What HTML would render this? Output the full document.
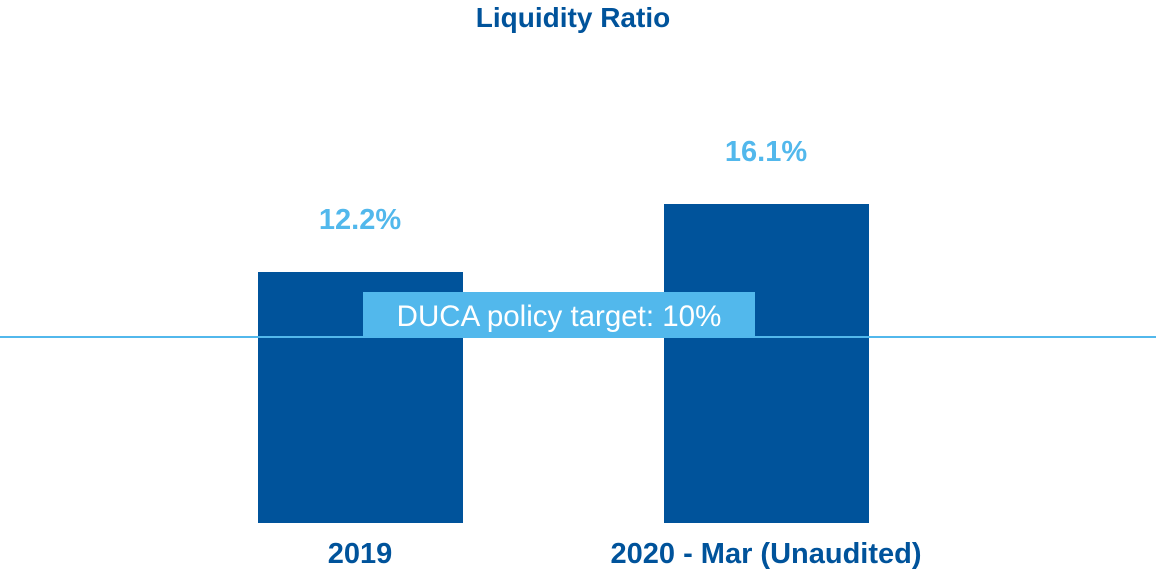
<!DOCTYPE html>
<html><head><meta charset="utf-8"><style>
html,body{margin:0;padding:0;background:#fff;}
body{width:1156px;height:568px;position:relative;overflow:hidden;font-family:"Liberation Sans",sans-serif;}
.a{position:absolute;}
.bar{background:#00539b;}
.t{color:#00539b;font-weight:bold;text-align:center;white-space:nowrap;}
.v{color:#52b8ec;font-weight:bold;font-size:29px;text-align:center;width:200px;}
</style></head><body>
<div class="a t" style="left:373px;width:400px;top:2px;font-size:28px;">Liquidity Ratio</div>
<div class="a bar" style="left:258px;top:272px;width:205px;height:251px;"></div>
<div class="a bar" style="left:664px;top:204px;width:205px;height:319px;"></div>
<div class="a" style="left:0;top:336px;width:1156px;height:2px;background:#52b8ec;"></div>
<div class="a" style="left:363px;top:292px;width:392px;height:45px;background:#52b8ec;color:#fff;font-size:29.5px;line-height:50px;text-align:center;white-space:nowrap;">DUCA policy target: 10%</div>
<div class="a v" style="left:260px;top:204px;">12.2%</div>
<div class="a v" style="left:666px;top:136px;">16.1%</div>
<div class="a t" style="left:160px;width:400px;top:538px;font-size:29px;">2019</div>
<div class="a t" style="left:566px;width:400px;top:538px;font-size:29px;">2020 - Mar (Unaudited)</div>
</body></html>
